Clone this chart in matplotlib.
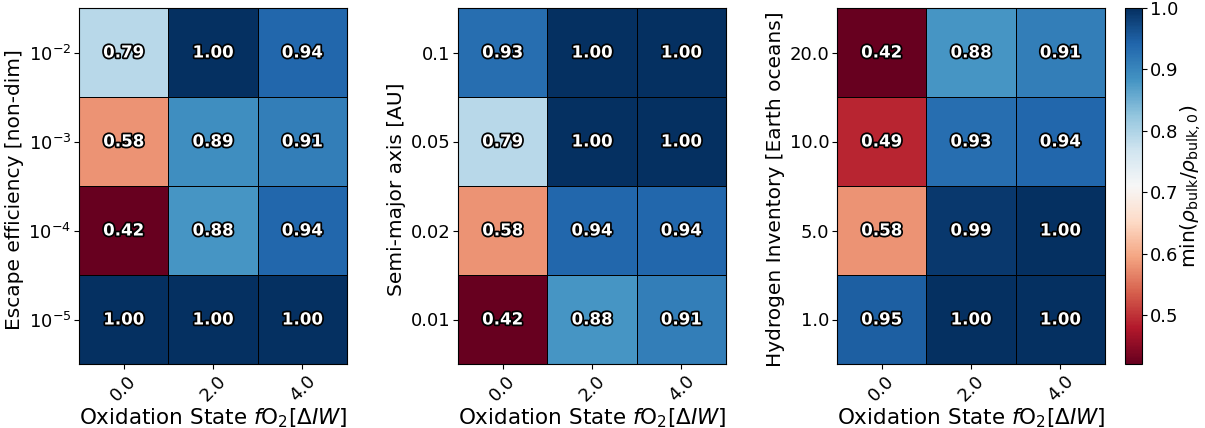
import matplotlib
matplotlib.use('Agg')
import matplotlib.pyplot as plt
import matplotlib.patheffects as pe
import numpy as np

# x axis shared by all three panels
fo2_labels = ['0.0', '2.0', '4.0']

# rows listed top to bottom
escape_labels = [r'$10^{-2}$', r'$10^{-3}$', r'$10^{-4}$', r'$10^{-5}$']
escape_vals = [[0.79, 1.00, 0.94],
               [0.58, 0.89, 0.91],
               [0.42, 0.88, 0.94],
               [1.00, 1.00, 1.00]]

sma_labels = ['0.1', '0.05', '0.02', '0.01']
sma_vals = [[0.93, 1.00, 1.00],
            [0.79, 1.00, 1.00],
            [0.58, 0.94, 0.94],
            [0.42, 0.88, 0.91]]

hydrogen_labels = ['20.0', '10.0', '5.0', '1.0']
hydrogen_vals = [[0.42, 0.88, 0.91],
                 [0.49, 0.93, 0.94],
                 [0.58, 0.99, 1.00],
                 [0.95, 1.00, 1.00]]

panels = [
    (escape_vals, escape_labels, 'Escape efficiency [non-dim]'),
    (sma_vals, sma_labels, 'Semi-major axis [AU]'),
    (hydrogen_vals, hydrogen_labels, 'Hydrogen Inventory [Earth oceans]'),
]

vmin = min(np.min(p[0]) for p in panels)
vmax = 1.0

W, H = 1205, 428
fig = plt.figure(figsize=(W / 100, H / 100), dpi=100)

lefts = [79, 458, 837]
ax_w, ax_h = 268, 356
bottom = 64

mesh = None
for (vals, ylabels, ylabel), left in zip(panels, lefts):
    ax = fig.add_axes([left / W, bottom / H, ax_w / W, ax_h / H])
    data = np.array(vals)
    nrow, ncol = data.shape
    mesh = ax.pcolormesh(np.arange(ncol + 1) - 0.5, np.arange(nrow + 1) - 0.5, data,
                         cmap='RdBu', vmin=vmin, vmax=vmax,
                         edgecolors='k', linewidth=0.6)
    ax.set_xlim(-0.5, ncol - 0.5)
    ax.set_ylim(nrow - 0.5, -0.5)
    for i in range(nrow):
        for j in range(ncol):
            ax.text(j, i, f'{data[i, j]:.2f}', ha='center', va='center',
                    color='white', fontsize=12, fontweight='bold',
                    path_effects=[pe.withStroke(linewidth=2.5, foreground='black')])
    ax.set_xticks(range(ncol))
    ax.set_xticklabels(fo2_labels, rotation=45, fontsize=13)
    ax.set_yticks(range(nrow))
    ax.set_yticklabels(ylabels, fontsize=13)
    ax.tick_params(pad=2)
    ax.set_xlabel(r'Oxidation State $f\mathrm{O_2}[\Delta IW]$', fontsize=15.5, labelpad=1)
    ax.set_ylabel(ylabel, fontsize=14.5, labelpad=3, y=0.49)

cax = fig.add_axes([1125 / W, bottom / H, 17 / W, ax_h / H])
cb = fig.colorbar(mesh, cax=cax)
cb.set_ticks([0.5, 0.6, 0.7, 0.8, 0.9, 1.0])
cb.ax.tick_params(labelsize=13, pad=2)
cb.set_label(r'min($\rho_{\mathrm{bulk}}/\rho_{\mathrm{bulk,0}}$)', fontsize=14.5, labelpad=0)

fig.savefig('out.png', dpi=100)
